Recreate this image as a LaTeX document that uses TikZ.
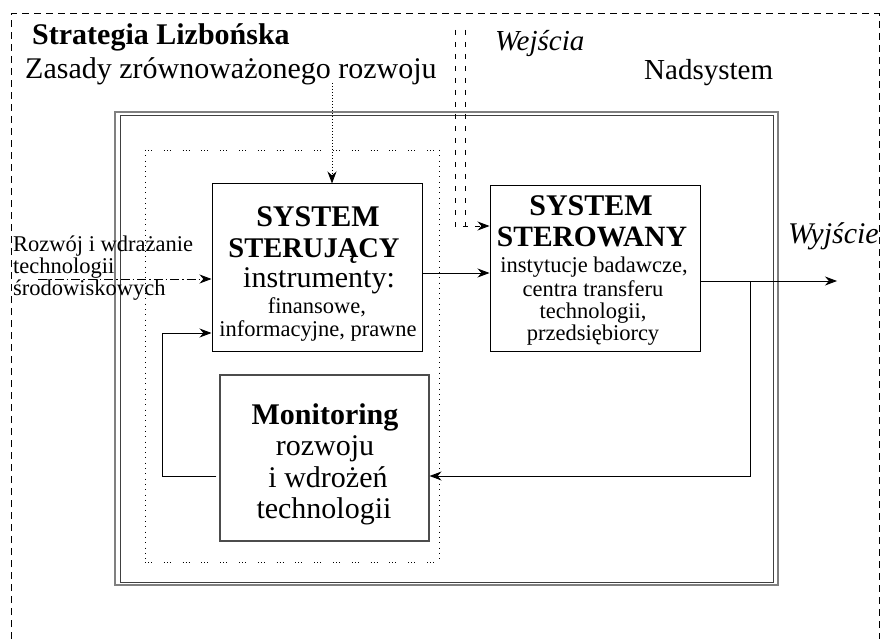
\documentclass[tikz,border=0pt]{standalone}
\usepackage{fontspec}
\setmainfont{Liberation Serif}
\usetikzlibrary{arrows.meta,calc}
\newcommand\fsz[1]{\fontsize{#1}{#1}\selectfont}

\begin{document}
\begin{tikzpicture}[x=1pt,y=-1pt,
  txt/.style={inner sep=0pt, anchor=base},
  txtl/.style={inner sep=0pt, anchor=base west},
  sysbox/.style={draw=black, line width=1pt, inner sep=0pt},
  monbox/.style={draw=black!70, line width=1.1pt, inner sep=0pt},
  arr/.style={-{Stealth[length=12pt,width=9pt]}, line width=0.9pt},
  outerdash/.style={line width=1pt, dash pattern=on 7pt off 5pt},
  indash/.style={line width=0.8pt, dash pattern=on 5pt off 7pt},
  dotsh/.style={line width=0.8pt, dash pattern=on 0.8pt off 2.2pt on 0.8pt off 2.2pt on 0.8pt off 12pt},
  dotsv/.style={line width=0.8pt, dash pattern=on 0.8pt off 4.5pt},
  fine dots/.style={line width=0.8pt, dash pattern=on 1pt off 2pt},
  dashdot/.style={line width=0.9pt, dash pattern=on 9pt off 3pt on 1.5pt off 3pt}]

\useasboundingbox (0,0) rectangle (880,639);

% supersystem frame (dashed, open at the bottom)
\draw[outerdash] (11,639) -- (11,14) -- (879,14) -- (879,639);

% system frame (double line)
\draw[gray, line width=1.2pt] (115,112) rectangle (778,585);
\draw[black!75, line width=1pt] (120,116) rectangle (773,582);

% control subsystem (dotted)
\draw[dotsh] (145,150) -- (439,150);
\draw[dotsh] (145,562) -- (439,562);
\draw[dotsv] (145,150) -- (145,562);
\draw[dotsv] (439,150) -- (439,562);

% blocks
\node[sysbox, minimum width=210pt, minimum height=167pt] (ster) at (317,267.5) {};
\node[sysbox, minimum width=210pt, minimum height=165pt] (sterow) at (595,268.5) {};
\node[monbox, minimum width=209pt, minimum height=166pt] (mon) at (324.5,458) {};

% texts of the control block
\node[txt] (st1) at (318,226) {\fsz{30}\bfseries SYSTEM};
\node[txt] (st2) at (314,257) {\fsz{28.5}\bfseries STERUJĄCY};
\node[txt] (st3) at (319,287) {\fsz{30}instrumenty:};
\node[txt] (st4) at (317,313) {\fsz{22.5}finansowe,};
\node[txt] (st5) at (318,336) {\fsz{22.5}informacyjne, prawne};

% texts of the controlled block
\node[txt] (sw1) at (591,215) {\fsz{30}\bfseries SYSTEM};
\node[txt] (sw2) at (592,246) {\fsz{29.5}\bfseries STEROWANY};
\node[txt] (sw3) at (594,272) {\fsz{22.5}instytucje badawcze,};
\node[txt] (sw4) at (593,296) {\fsz{22.5}centra transferu};
\node[txt] (sw5) at (593,318) {\fsz{22.5}technologii,};
\node[txt] (sw6) at (593,340) {\fsz{22.5}przedsiębiorcy};

% texts of the monitoring block
\node[txt] (mo1) at (325,424) {\fsz{30}\bfseries Monitoring};
\node[txt] (mo2) at (325,455) {\fsz{30}rozwoju};
\node[txt] (mo3) at (328,487) {\fsz{30}i wdrożeń};
\node[txt] (mo4) at (324,518) {\fsz{30}technologii};

% headings and labels
\node[txtl] (lis) at (32,45) {\fsz{30}\bfseries Strategia Lizbońska};
\node[txtl] (zas) at (25,79) {\fsz{30}Zasady zrównoważonego rozwoju};
\node[txtl] (wej) at (495,51) {\fsz{29}\itshape Wejścia};
\node[txtl] (nad) at (644,80) {\fsz{29}Nadsystem};
\node[txtl] (wyj) at (788,243) {\fsz{30}\itshape Wyjście};
\node[txtl] (roz1) at (13,251) {\fsz{22.5}Rozwój i wdrażanie};
\node[txtl] (roz2) at (13,273) {\fsz{22.5}technologii};
\node[txtl] (roz3) at (13,295) {\fsz{22.5}środowiskowych};

% connector end points
\coordinate (zasin) at (332,83);
\coordinate (envin) at (38,279);
\coordinate (wa) at (455,30);
\coordinate (wb) at (465,30);
\coordinate (wc) at (465,226);
\coordinate (out) at (837,281);
\coordinate (fbx) at (162,0);
\coordinate (brx) at (750,0);

% principles of sustainable development -> control block
\draw[fine dots, arr] (zasin) -- (zasin |- ster.north);
% environmental technologies input
\draw[dashdot, arr] (envin) -- (envin -| ster.west);
% inputs of the supersystem
\draw[indash] (wb) -- (wc);
\draw[indash, arr] (wa) -- (wa |- wc) -- (wc -| sterow.west);
% control -> controlled
\draw[arr] ([yshift=-5.5pt]ster.east) -- ([yshift=-5.5pt]ster.east -| sterow.west);
% output
\draw[arr] ([yshift=-12.5pt]sterow.east) -- (out);
% feedback through monitoring
\draw[arr] (brx |- out) -- (brx |- 0,476) -- ([yshift=-18pt]mon.east);
\draw[arr] ([xshift=-3pt,yshift=-18pt]mon.west) -- (fbx |- 0,476) -- (fbx |- 0,333) -- ([yshift=-65.5pt]ster.west);
\end{tikzpicture}
\end{document}
